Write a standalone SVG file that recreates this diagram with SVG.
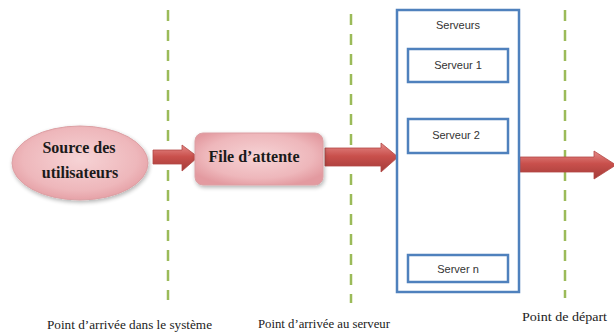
<svg xmlns="http://www.w3.org/2000/svg" width="614" height="334" viewBox="0 0 614 334">
  <defs>
    <radialGradient id="pinkFill" cx="50%" cy="45%" r="60%">
      <stop offset="0" stop-color="#f6d3d5"/>
      <stop offset="0.7" stop-color="#eeb7bb"/>
      <stop offset="1" stop-color="#e39aa0"/>
    </radialGradient>
    <linearGradient id="arrowFill" x1="0" y1="0" x2="0" y2="1">
      <stop offset="0" stop-color="#e58a88"/>
      <stop offset="0.45" stop-color="#c9504c"/>
      <stop offset="1" stop-color="#a33b38"/>
    </linearGradient>
    <filter id="shadow" x="-20%" y="-20%" width="140%" height="150%">
      <feGaussianBlur in="SourceAlpha" stdDeviation="2"/>
      <feOffset dx="1" dy="2" result="b"/>
      <feComponentTransfer><feFuncA type="linear" slope="0.3"/></feComponentTransfer>
      <feMerge><feMergeNode/><feMergeNode in="SourceGraphic"/></feMerge>
    </filter>
  </defs>
  <style>
    .divider { stroke: #9bbb59; stroke-width: 2.5; stroke-dasharray: 11 9; fill: none; }
    .box { fill: #ffffff; stroke: #4f81bd; stroke-width: 2.5; }
    .flow { fill: url(#arrowFill); stroke: #b24744; stroke-width: 0.8; }
    .shape { fill: url(#pinkFill); stroke: #dca0a4; stroke-width: 1; filter: url(#shadow); }
    .bold { font-family: "Liberation Serif", serif; font-weight: bold; font-size: 16px; fill: #1a1a1a; }
    .caption { font-family: "Liberation Serif", serif; font-size: 13.5px; fill: #222; }
    .srv { font-family: "Liberation Sans", sans-serif; font-size: 11px; fill: #333; text-anchor: middle; }
  </style>

  <!-- vertical dashed markers -->
  <g id="dividers">
    <line class="divider" x1="168" y1="10" x2="168" y2="300"/>
    <line class="divider" x1="351" y1="14" x2="351" y2="303"/>
    <line class="divider" x1="565" y1="10" x2="565" y2="298"/>
  </g>

  <!-- flow arrows -->
  <g id="connectors">
    <polygon class="flow" points="153,150 182,150 182,145 198,157 182,171 182,164 153,164"/>
    <polygon class="flow" points="325,148 381,148 381,143 398,157 381,172 381,166 325,166"/>
    <polygon class="flow" points="520,157 594,157 594,151 616,165 594,179 594,172 520,172"/>
  </g>

  <g id="source">
    <ellipse class="shape" cx="80" cy="163" rx="68" ry="37"/>
    <text class="bold" x="79" y="153" text-anchor="middle">Source des</text>
    <text class="bold" x="80" y="178" text-anchor="middle">utilisateurs</text>
  </g>

  <g id="file-attente">
    <rect class="shape" x="195" y="133" width="128" height="52" rx="8"/>
    <text class="bold" x="254" y="162" text-anchor="middle">File d’attente</text>
  </g>

  <g id="serveurs">
    <rect class="box" x="397" y="10" width="122" height="282"/>
    <text class="srv" x="458" y="29">Serveurs</text>
  </g>

  <g id="serveur-1">
    <rect class="box" x="408" y="49" width="100" height="33"/>
    <text class="srv" x="458" y="69">Serveur 1</text>
  </g>

  <g id="serveur-2">
    <rect class="box" x="408" y="119" width="100" height="34"/>
    <text class="srv" x="456" y="139">Serveur 2</text>
  </g>

  <g id="server-n">
    <rect class="box" x="408" y="255" width="100" height="27"/>
    <text class="srv" x="458" y="273">Server n</text>
  </g>

  <g id="labels">
    <text class="caption" x="47" y="329" textLength="165" lengthAdjust="spacingAndGlyphs">Point d’arrivée dans le système</text>
    <text class="caption" x="258" y="328" textLength="132" lengthAdjust="spacingAndGlyphs">Point d’arrivée au serveur</text>
    <text class="caption" x="522" y="321" textLength="85" lengthAdjust="spacingAndGlyphs">Point de départ</text>
  </g>
</svg>
